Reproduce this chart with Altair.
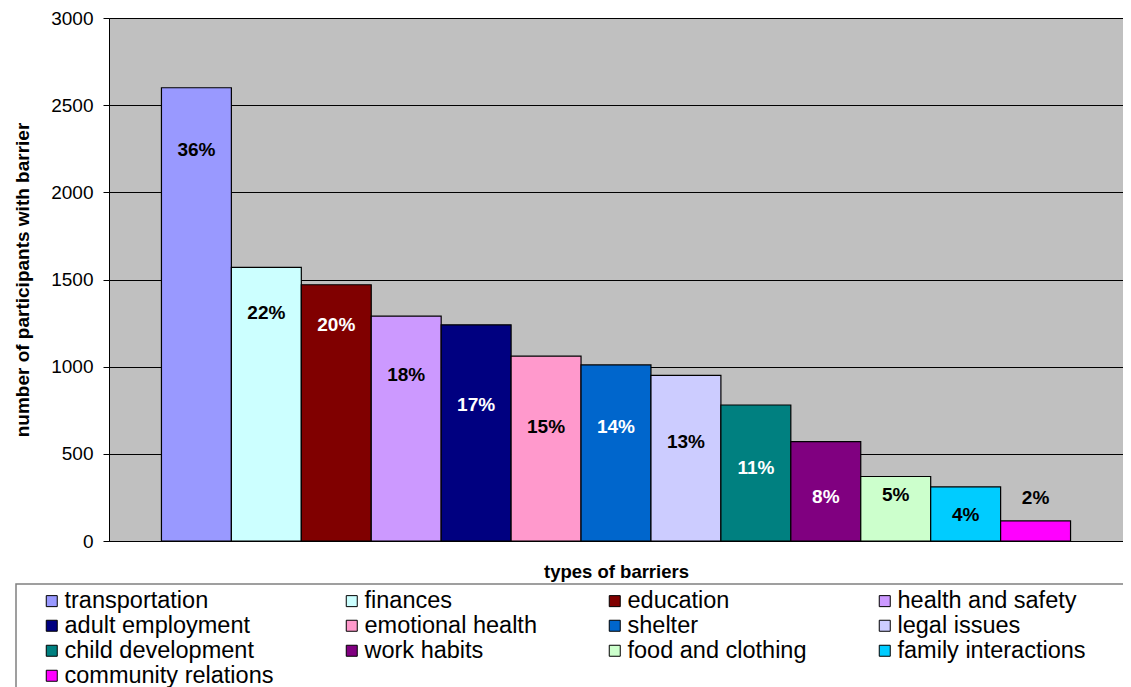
import altair as alt
import pandas as pd

categories = ["transportation", "finances", "education", "health and safety",
              "adult employment", "emotional health", "shelter", "legal issues",
              "child development", "work habits", "food and clothing",
              "family interactions", "community relations"]
participants = [2600, 1570, 1470, 1290, 1240, 1060, 1010, 950, 780, 570, 370, 310, 115]
percents = [36, 22, 20, 18, 17, 15, 14, 13, 11, 8, 5, 4, 2]
label_at = [2240, 1310, 1240, 950, 780, 655, 655, 570, 420, 250, 265, 150, 245]
colors = ["#9999FF", "#CCFFFF", "#800000", "#CC99FF", "#000080", "#FF99CC",
          "#0066CC", "#CCCCFF", "#008080", "#800080", "#CCFFCC", "#00CCFF", "#FF00FF"]
y_ticks = [0, 500, 1000, 1500, 2000, 2500, 3000]

FONT = "Liberation Sans"


def lum(h):
    r, g, b = int(h[1:3], 16), int(h[3:5], 16), int(h[5:7], 16)
    return 0.299 * r + 0.587 * g + 0.114 * b


df = pd.DataFrame({
    "barrier": categories,
    "participants": participants,
    "label": [f"{p}%" for p in percents],
    "label_at": label_at,
})
df["txt"] = [
    "black" if (la > v or lum(c) > 128) else "white"
    for la, v, c in zip(label_at, participants, colors)
]

W, H = 1014, 523

x_enc = alt.X(
    "barrier:N", sort=categories,
    scale=alt.Scale(paddingInner=0, paddingOuter=0.75),
    axis=alt.Axis(labels=False, ticks=False, grid=False, domainColor="black",
                  title="types of barriers", titleFont=FONT, titleFontSize=18.5,
                  titleFontWeight="bold", titleColor="black",
                  titleX=W / 2, titleY=36, titleAlign="center",
                  titleBaseline="alphabetic"),
)

bars = alt.Chart(df).mark_bar(stroke="black", strokeWidth=1.2).encode(
    x=x_enc,
    y=alt.Y(
        "participants:Q",
        scale=alt.Scale(domain=[0, 3000], nice=False),
        axis=alt.Axis(values=y_ticks, format="d", grid=True, gridColor="black",
                      gridWidth=1, gridOpacity=1, domainColor="black",
                      tickColor="black", tickSize=6, labelFont=FONT,
                      labelFontSize=19, labelColor="black", labelPadding=10,
                      title="number of participants with barrier",
                      titleFont=FONT, titleFontSize=19, titleFontWeight="bold",
                      titleColor="black", titleX=-87, titleY=H / 2,
                      titleAlign="center", titleBaseline="middle"),
    ),
    color=alt.Color(
        "barrier:N",
        scale=alt.Scale(domain=categories, range=colors),
        legend=alt.Legend(
            title=None, orient="none", legendX=-69, legendY=571,
            direction="horizontal", columns=4, columnPadding=66,
            rowPadding=0, padding=0,
            symbolType="square", symbolSize=121, symbolStrokeColor="black",
            symbolStrokeWidth=1, symbolOpacity=1,
            labelFont=FONT, labelFontSize=23.5, labelColor="black",
            labelOffset=1, labelLimit=400, gridAlign="each",
        ),
    ),
)


def text_layer(col):
    return alt.Chart(df).transform_filter(
        alt.datum.txt == col
    ).mark_text(font=FONT, fontSize=19, fontWeight="bold", color=col,
                baseline="middle", align="center").encode(
        x=alt.X("barrier:N", sort=categories),
        y=alt.Y("label_at:Q"),
        text="label:N",
    )


frame = alt.Chart(pd.DataFrame({"f": [0]})).mark_rect(
    fillOpacity=0, stroke="#808080", strokeWidth=1.5
).encode(
    x=alt.value(-93), x2=alt.value(1045), y=alt.value(566), y2=alt.value(700)
)

chart = alt.layer(bars, text_layer("black"), text_layer("white"), frame).properties(
    width=W, height=H,
    autosize=alt.AutoSizeParams(type="none"),
    padding={"left": 101, "top": 10, "right": 0, "bottom": 146},
    background="white",
).configure_view(fill="#C0C0C0", stroke="#808080", strokeWidth=1)

chart.save("out.html", embed_options={"renderer": "svg", "actions": False})
